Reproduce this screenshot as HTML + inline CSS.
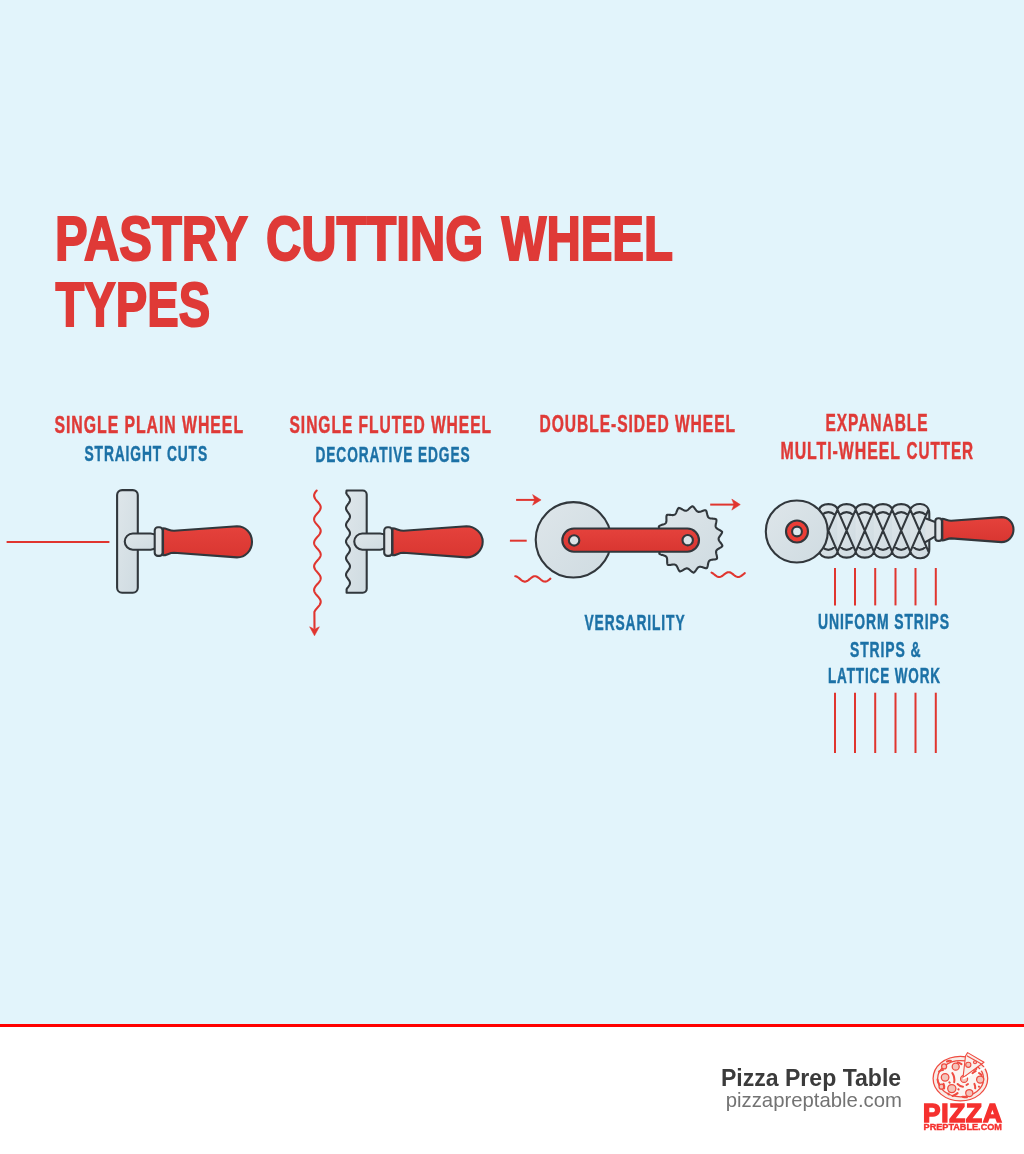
<!DOCTYPE html>
<html><head><meta charset="utf-8">
<style>
html,body{margin:0;padding:0;width:1024px;height:1154px;overflow:hidden;background:#fff;}
svg{display:block;font-family:"Liberation Sans",sans-serif;will-change:transform;}
.t{font-weight:bold;fill:#df3a37;}
.l{letter-spacing:1.4px;stroke-width:0.45px;}
.t.l{stroke:#df3a37;}
.b.l{stroke:#1c71a6;}
.b{font-weight:bold;fill:#1c71a6;}
</style></head><body>
<svg width="1024" height="1154" viewBox="0 0 1024 1154">
<defs>
<linearGradient id="steel" x1="0" y1="0" x2="1" y2="1">
<stop offset="0" stop-color="#dee6ea"/><stop offset="1" stop-color="#cfdbe1"/>
</linearGradient>
<linearGradient id="redg" x1="0" y1="0" x2="0" y2="1">
<stop offset="0" stop-color="#e5423c"/><stop offset="1" stop-color="#d93631"/>
</linearGradient>
</defs>
<rect x="0" y="0" width="1024" height="1024" fill="#e2f4fb"/>
<rect x="0" y="1024" width="1024" height="3" fill="#ff0000"/>
<rect x="0" y="1027" width="1024" height="127" fill="#ffffff"/>

<!-- Title -->
<text class="t" x="55" y="260" font-size="62.2" stroke="#df3a37" stroke-width="2" textLength="193" lengthAdjust="spacingAndGlyphs">PASTRY</text>
<text class="t" x="266" y="260" font-size="62.2" stroke="#df3a37" stroke-width="2" textLength="217.2" lengthAdjust="spacingAndGlyphs">CUTTING</text>
<text class="t" x="501.6" y="260" font-size="62.2" stroke="#df3a37" stroke-width="2" textLength="171.4" lengthAdjust="spacingAndGlyphs">WHEEL</text>
<text class="t" x="55.5" y="325.6" font-size="62.2" stroke="#df3a37" stroke-width="2" textLength="154.6" lengthAdjust="spacingAndGlyphs">TYPES</text>

<!-- Labels -->
<text class="t l" x="54.5" y="432.8" font-size="23" textLength="189.5" lengthAdjust="spacingAndGlyphs">SINGLE PLAIN WHEEL</text>
<text class="b l" x="84.5" y="461" font-size="21.4" textLength="123.5" lengthAdjust="spacingAndGlyphs">STRAIGHT CUTS</text>
<text class="t l" x="289.5" y="432.8" font-size="23" textLength="202.5" lengthAdjust="spacingAndGlyphs">SINGLE FLUTED WHEEL</text>
<text class="b l" x="315.5" y="461.8" font-size="21.4" textLength="155" lengthAdjust="spacingAndGlyphs">DECORATIVE EDGES</text>
<text class="t l" x="539.5" y="431.6" font-size="23" textLength="196.5" lengthAdjust="spacingAndGlyphs">DOUBLE-SIDED WHEEL</text>
<text class="t l" x="825.5" y="430.6" font-size="23" textLength="103" lengthAdjust="spacingAndGlyphs">EXPANABLE</text>
<text class="t l" x="780.5" y="458.5" font-size="23" textLength="120.5" lengthAdjust="spacingAndGlyphs">MULTI-WHEEL</text>
<text class="t l" x="906.5" y="458.5" font-size="23" textLength="67.5" lengthAdjust="spacingAndGlyphs">CUTTER</text>
<text class="b l" x="584.5" y="630.1" font-size="21.4" textLength="101" lengthAdjust="spacingAndGlyphs">VERSARILITY</text>
<text class="b l" x="818" y="629" font-size="21.4" textLength="132" lengthAdjust="spacingAndGlyphs">UNIFORM STRIPS</text>
<text class="b l" x="850" y="656.5" font-size="21.4" textLength="71.5" lengthAdjust="spacingAndGlyphs">STRIPS &amp;</text>
<text class="b l" x="828" y="683" font-size="21.4" textLength="113" lengthAdjust="spacingAndGlyphs">LATTICE WORK</text>

<line x1="7.4" y1="542" x2="108.6" y2="542" stroke="#e0352f" stroke-width="2" stroke-linecap="round"/>
<rect x="117.1" y="490.1" width="20.7" height="102.6" rx="5" fill="url(#steel)" stroke="#31373c" stroke-width="2.1"/>
<rect x="124.75" y="533.5" width="34" height="16.2" rx="8.1" fill="url(#steel)" stroke="#31373c" stroke-width="2.1"/>
<rect x="154.7" y="527.3" width="7.9" height="28.6" rx="3.2" fill="#dfe5e8" stroke="#31373c" stroke-width="2.1"/>
<path d="M 163 528.3
C 167 528.3 169 530.8 174 530.8
L 237 526.2
C 245.4 526.2 252 533.06 252 541.8
C 252 550.54 245.4 557.4 237 557.4
L 174 552.8
C 169 552.8 167 555.3 163 555.3 Z" fill="url(#redg)" stroke="#31373c" stroke-width="2.1" stroke-linejoin="round"/>
<path d="M 316.7,490.5 L 316.19,491.11 L 315.71,491.71 L 315.28,492.32 L 314.9,492.93 L 314.59,493.54 L 314.34,494.14 L 314.18,494.75 L 314.11,495.36 L 314.12,495.97 L 314.21,496.57 L 314.39,497.18 L 314.65,497.79 L 314.97,498.4 L 315.37,499 L 315.81,499.61 L 316.3,500.22 L 316.81,500.83 L 317.34,501.44 L 317.87,502.04 L 318.39,502.65 L 318.89,503.26 L 319.34,503.87 L 319.75,504.47 L 320.09,505.08 L 320.36,505.69 L 320.56,506.3 L 320.67,506.9 L 320.7,507.51 L 320.64,508.12 L 320.5,508.73 L 320.27,509.33 L 319.97,509.94 L 319.61,510.55 L 319.18,511.15 L 318.71,511.76 L 318.21,512.37 L 317.68,512.98 L 317.15,513.59 L 316.62,514.19 L 316.12,514.8 L 315.64,515.41 L 315.22,516.01 L 314.85,516.62 L 314.54,517.23 L 314.31,517.84 L 314.17,518.45 L 314.1,519.05 L 314.12,519.66 L 314.23,520.27 L 314.42,520.88 L 314.69,521.48 L 315.03,522.09 L 315.43,522.7 L 315.88,523.3 L 316.37,523.91 L 316.89,524.52 L 317.42,525.13 L 317.96,525.74 L 318.47,526.34 L 318.96,526.95 L 319.41,527.56 L 319.8,528.16 L 320.14,528.77 L 320.4,529.38 L 320.58,529.99 L 320.68,530.6 L 320.7,531.2 L 320.62,531.81 L 320.47,532.42 L 320.23,533.02 L 319.92,533.63 L 319.55,534.24 L 319.11,534.85 L 318.64,535.46 L 318.13,536.06 L 317.6,536.67 L 317.07,537.28 L 316.54,537.88 L 316.04,538.49 L 315.58,539.1 L 315.16,539.71 L 314.8,540.32 L 314.5,540.92 L 314.29,541.53 L 314.15,542.14 L 314.1,542.75 L 314.14,543.35 L 314.26,543.96 L 314.46,544.57 L 314.74,545.17 L 315.09,545.78 L 315.5,546.39 L 315.95,547 L 316.45,547.61 L 316.97,548.21 L 317.51,548.82 L 318.04,549.43 L 318.55,550.03 L 319.03,550.64 L 319.47,551.25 L 319.86,551.86 L 320.18,552.47 L 320.43,553.07 L 320.6,553.68 L 320.69,554.29 L 320.69,554.89 L 320.61,555.5 L 320.44,556.11 L 320.19,556.72 L 319.87,557.33 L 319.48,557.93 L 319.04,558.54 L 318.56,559.15 L 318.05,559.75 L 317.52,560.36 L 316.99,560.97 L 316.47,561.58 L 315.97,562.18 L 315.51,562.79 L 315.1,563.4 L 314.75,564.01 L 314.47,564.62 L 314.26,565.22 L 314.14,565.83 L 314.1,566.44 L 314.15,567.04 L 314.28,567.65 L 314.5,568.26 L 314.79,568.87 L 315.15,569.48 L 315.56,570.08 L 316.03,570.69 L 316.53,571.3 L 317.05,571.9 L 317.59,572.51 L 318.11,573.12 L 318.62,573.73 L 319.1,574.34 L 319.53,574.94 L 319.91,575.55 L 320.22,576.16 L 320.46,576.76 L 320.62,577.37 L 320.69,577.98 L 320.68,578.59 L 320.58,579.19 L 320.4,579.8 L 320.15,580.41 L 319.81,581.02 L 319.42,581.62 L 318.97,582.23 L 318.49,582.84 L 317.97,583.45 L 317.44,584.06 L 316.91,584.66 L 316.39,585.27 L 315.9,585.88 L 315.44,586.49 L 315.04,587.09 L 314.7,587.7 L 314.43,588.31 L 314.24,588.91 L 314.13,589.52 L 314.1,590.13 L 314.16,590.74 L 314.31,591.35 L 314.54,591.95 L 314.84,592.56 L 315.21,593.17 L 315.63,593.77 L 316.1,594.38 L 316.61,594.99 L 317.13,595.6 L 317.67,596.21 L 318.19,596.81 L 318.7,597.42 L 319.17,598.03 L 319.6,598.63 L 319.96,599.24 L 320.27,599.85 L 320.49,600.46 L 320.64,601.07 L 320.7,601.67 L 320.67,602.28 L 320.56,602.89 L 320.37,603.5 L 320.1,604.1 L 319.76,604.71 L 319.36,605.32 L 318.9,605.92 L 318.41,606.53 L 317.89,607.14 L 317.36,607.75 L 316.83,608.36 L 316.31,608.96 L 315.82,609.57 L 315.38,610.18 L 314.98,610.78 L 314.65,611.39 L 314.39,612 L 314.5,628" fill="none" stroke="#e0352f" stroke-width="2.1" stroke-linecap="round" stroke-linejoin="round"/><path d="M 309.6 626.8 L 314.5 629.2 L 319.4 626.8 L 314.5 635.8 Z" fill="#e0352f" stroke="#e0352f" stroke-width="0.5" stroke-linejoin="round"/>
<path d="M 346.6 490.5 H 362.7 A 4 4 0 0 1 366.7 494.5 V 588.7 A 4 4 0 0 1 362.7 592.7 H 346.6 L 346.6 589.2 L 347.09 588.4 L 347.66 587.6 L 348.27 586.8 L 348.85 585.99 L 349.35 585.19 L 349.73 584.39 L 349.95 583.59 L 349.99 582.79 L 349.85 581.99 L 349.55 581.18 L 349.1 580.38 L 348.55 579.58 L 347.95 578.78 L 347.35 577.98 L 346.82 577.18 L 346.39 576.37 L 346.11 575.57 L 346 574.77 L 346.08 573.97 L 346.33 573.17 L 346.73 572.37 L 347.25 571.56 L 347.84 570.76 L 348.44 569.96 L 349.01 569.16 L 349.48 568.36 L 349.81 567.56 L 349.98 566.75 L 349.97 565.95 L 349.78 565.15 L 349.43 564.35 L 348.94 563.55 L 348.37 562.75 L 347.77 561.94 L 347.19 561.14 L 346.68 560.34 L 346.29 559.54 L 346.06 558.74 L 346 557.94 L 346.13 557.13 L 346.43 556.33 L 346.87 555.53 L 347.42 554.73 L 348.02 553.93 L 348.61 553.12 L 349.16 552.32 L 349.59 551.52 L 349.88 550.72 L 350 549.92 L 349.93 549.12 L 349.69 548.32 L 349.3 547.51 L 348.78 546.71 L 348.2 545.91 L 347.59 545.11 L 347.03 544.31 L 346.55 543.5 L 346.2 542.7 L 346.02 541.9 L 346.02 541.1 L 346.2 540.3 L 346.55 539.5 L 347.03 538.7 L 347.59 537.89 L 348.2 537.09 L 348.78 536.29 L 349.3 535.49 L 349.69 534.69 L 349.93 533.88 L 350 533.08 L 349.88 532.28 L 349.59 531.48 L 349.16 530.68 L 348.62 529.88 L 348.02 529.08 L 347.42 528.27 L 346.87 527.47 L 346.43 526.67 L 346.13 525.87 L 346 525.07 L 346.06 524.26 L 346.29 523.46 L 346.68 522.66 L 347.18 521.86 L 347.77 521.06 L 348.37 520.26 L 348.94 519.46 L 349.43 518.65 L 349.78 517.85 L 349.97 517.05 L 349.98 516.25 L 349.81 515.45 L 349.48 514.64 L 349.01 513.84 L 348.44 513.04 L 347.84 512.24 L 347.25 511.44 L 346.73 510.64 L 346.33 509.84 L 346.08 509.03 L 346 508.23 L 346.11 507.43 L 346.39 506.63 L 346.81 505.83 L 347.35 505.02 L 347.94 504.22 L 348.54 503.42 L 349.09 502.62 L 349.54 501.82 L 349.85 501.02 L 349.99 500.22 L 349.95 499.41 L 349.73 498.61 L 349.35 497.81 L 348.85 497.01 L 348.27 496.21 L 347.66 495.4 L 347.09 494.6 L 346.6 493.8 L 346.24 493 Z" fill="url(#steel)" stroke="#31373c" stroke-width="2.1" stroke-linejoin="round"/>
<rect x="354.25" y="533.5" width="34" height="16.2" rx="8.1" fill="url(#steel)" stroke="#31373c" stroke-width="2.1"/>
<rect x="384.2" y="527.3" width="7.9" height="28.6" rx="3.2" fill="#dfe5e8" stroke="#31373c" stroke-width="2.1"/>
<path d="M 392.5 528.3
C 396.5 528.3 398.5 530.8 403.5 530.8
L 466.5 526.2
C 474.9 526.2 482.7 533.06 482.7 541.8
C 482.7 550.54 474.9 557.4 466.5 557.4
L 403.5 552.8
C 398.5 552.8 396.5 555.3 392.5 555.3 Z" fill="url(#redg)" stroke="#31373c" stroke-width="2.1" stroke-linejoin="round"/>
<line x1="516.1" y1="499.9" x2="535.6" y2="499.9" stroke="#e0352f" stroke-width="2"/><path d="M 532.6 494.6 L 541.1 499.9 L 532.6 505.2 L 534.8 499.9 Z" fill="#e0352f" stroke="#e0352f" stroke-width="0.5" stroke-linejoin="round"/>
<line x1="509.9" y1="540.7" x2="526.7" y2="540.7" stroke="#e0352f" stroke-width="2"/>
<path d="M 515.2,576.22 L 515.79,576.31 L 516.37,576.5 L 516.96,576.77 L 517.55,577.1 L 518.13,577.5 L 518.72,577.95 L 519.31,578.42 L 519.89,578.92 L 520.48,579.41 L 521.07,579.88 L 521.65,580.32 L 522.24,580.72 L 522.83,581.05 L 523.41,581.31 L 524,581.49 L 524.59,581.59 L 525.17,581.59 L 525.76,581.5 L 526.35,581.33 L 526.93,581.07 L 527.52,580.74 L 528.11,580.35 L 528.69,579.91 L 529.28,579.44 L 529.87,578.95 L 530.45,578.46 L 531.04,577.98 L 531.63,577.53 L 532.21,577.13 L 532.8,576.79 L 533.39,576.52 L 533.97,576.32 L 534.56,576.22 L 535.15,576.21 L 535.73,576.28 L 536.32,576.44 L 536.91,576.69 L 537.49,577.01 L 538.08,577.39 L 538.67,577.83 L 539.25,578.3 L 539.84,578.79 L 540.43,579.28 L 541.01,579.76 L 541.6,580.21 L 542.19,580.62 L 542.77,580.97 L 543.36,581.25 L 543.95,581.45 L 544.53,581.57 L 545.12,581.6 L 545.71,581.53 L 546.29,581.38 L 546.88,581.15 L 547.47,580.84 L 548.05,580.46 L 548.64,580.03 L 549.23,579.57 L 549.81,579.08 L 550.4,578.58" fill="none" stroke="#e0352f" stroke-width="2.1" stroke-linecap="round" stroke-linejoin="round"/>
<circle cx="573.4" cy="539.8" r="37.7" fill="url(#steel)" stroke="#31373c" stroke-width="2.1"/>
<path d="M 692.51,506.23 L 693.06,506.54 L 693.59,507.01 L 694.09,507.56 L 694.56,508.16 L 695.02,508.77 L 695.46,509.37 L 695.88,509.94 L 696.3,510.46 L 696.73,510.91 L 697.16,511.29 L 697.61,511.57 L 698.08,511.77 L 698.58,511.87 L 699.11,511.88 L 699.68,511.82 L 700.28,511.68 L 700.92,511.48 L 701.59,511.25 L 702.29,510.99 L 703.01,510.74 L 703.74,510.51 L 704.46,510.33 L 705.16,510.23 L 705.79,510.29 L 706.17,510.8 L 706.46,511.44 L 706.69,512.15 L 706.88,512.89 L 707.05,513.63 L 707.2,514.36 L 707.36,515.05 L 707.54,515.7 L 707.74,516.28 L 707.98,516.8 L 708.27,517.24 L 708.63,517.61 L 709.04,517.91 L 709.52,518.14 L 710.07,518.31 L 710.67,518.43 L 711.34,518.51 L 712.05,518.57 L 712.79,518.62 L 713.55,518.68 L 714.31,518.77 L 715.04,518.9 L 715.72,519.09 L 716.27,519.4 L 716.42,520.02 L 716.42,520.72 L 716.34,521.46 L 716.21,522.22 L 716.06,522.96 L 715.91,523.69 L 715.77,524.39 L 715.67,525.05 L 715.61,525.67 L 715.62,526.24 L 715.71,526.76 L 715.88,527.24 L 716.14,527.68 L 716.49,528.09 L 716.92,528.46 L 717.42,528.82 L 718,529.16 L 718.62,529.51 L 719.28,529.86 L 719.95,530.22 L 720.6,530.61 L 721.22,531.03 L 721.76,531.48 L 722.14,531.99 L 722.02,532.61 L 721.74,533.25 L 721.36,533.9 L 720.94,534.54 L 720.5,535.16 L 720.06,535.76 L 719.65,536.34 L 719.29,536.9 L 718.99,537.44 L 718.77,537.97 L 718.63,538.49 L 718.6,538.99 L 718.65,539.5 L 718.8,540.01 L 719.04,540.53 L 719.36,541.06 L 719.74,541.61 L 720.17,542.17 L 720.63,542.76 L 721.1,543.37 L 721.54,543.99 L 721.93,544.62 L 722.24,545.26 L 722.39,545.87 L 722.02,546.39 L 721.5,546.86 L 720.9,547.3 L 720.25,547.71 L 719.59,548.1 L 718.95,548.47 L 718.34,548.84 L 717.78,549.2 L 717.28,549.58 L 716.87,549.97 L 716.54,550.38 L 716.29,550.83 L 716.14,551.32 L 716.07,551.84 L 716.08,552.42 L 716.15,553.03 L 716.28,553.69 L 716.44,554.38 L 716.62,555.1 L 716.8,555.84 L 716.95,556.59 L 717.06,557.33 L 717.08,558.03 L 716.96,558.66 L 716.42,558.98 L 715.74,559.2 L 715.02,559.36 L 714.26,559.47 L 713.5,559.56 L 712.76,559.64 L 712.06,559.72 L 711.4,559.83 L 710.79,559.97 L 710.25,560.15 L 709.78,560.4 L 709.38,560.71 L 709.04,561.09 L 708.76,561.54 L 708.54,562.07 L 708.36,562.66 L 708.2,563.31 L 708.07,564.01 L 707.94,564.74 L 707.8,565.49 L 707.64,566.24 L 707.43,566.96 L 707.16,567.61 L 706.8,568.13 L 706.17,568.2 L 705.47,568.13 L 704.74,567.98 L 704.01,567.77 L 703.28,567.55 L 702.57,567.32 L 701.89,567.11 L 701.24,566.93 L 700.64,566.82 L 700.07,566.77 L 699.54,566.8 L 699.04,566.92 L 698.58,567.13 L 698.14,567.43 L 697.72,567.82 L 697.31,568.29 L 696.91,568.82 L 696.5,569.4 L 696.09,570.02 L 695.65,570.65 L 695.2,571.26 L 694.72,571.83 L 694.21,572.32 L 693.67,572.65 L 693.06,572.46 L 692.45,572.11 L 691.85,571.67 L 691.26,571.19 L 690.69,570.68 L 690.14,570.19 L 689.6,569.72 L 689.08,569.3 L 688.57,568.94 L 688.07,568.67 L 687.57,568.48 L 687.07,568.39 L 686.56,568.39 L 686.04,568.49 L 685.5,568.67 L 684.94,568.94 L 684.35,569.26 L 683.74,569.63 L 683.11,570.02 L 682.46,570.42 L 681.8,570.8 L 681.13,571.12 L 680.46,571.36 L 679.83,571.44 L 679.36,571.02 L 678.94,570.45 L 678.57,569.81 L 678.23,569.13 L 677.91,568.43 L 677.61,567.75 L 677.31,567.11 L 677,566.51 L 676.68,565.98 L 676.34,565.52 L 675.96,565.15 L 675.54,564.86 L 675.07,564.66 L 674.56,564.54 L 673.99,564.48 L 673.37,564.49 L 672.7,564.55 L 672,564.64 L 671.26,564.74 L 670.5,564.84 L 669.74,564.92 L 669,564.94 L 668.29,564.89 L 667.69,564.71 L 667.42,564.13 L 667.27,563.44 L 667.19,562.7 L 667.16,561.94 L 667.15,561.18 L 667.15,560.43 L 667.14,559.72 L 667.11,559.05 L 667.03,558.44 L 666.9,557.88 L 666.71,557.39 L 666.44,556.95 L 666.1,556.58 L 665.67,556.25 L 665.18,555.97 L 664.61,555.73 L 663.97,555.51 L 663.29,555.31 L 662.58,555.1 L 661.85,554.88 L 661.12,554.64 L 660.43,554.36 L 659.81,554.03 L 659.33,553.62 L 659.32,552.98 L 659.47,552.29 L 659.7,551.58 L 659.97,550.87 L 660.28,550.17 L 660.58,549.49 L 660.86,548.84 L 661.1,548.21 L 661.28,547.62 L 661.39,547.06 L 661.41,546.53 L 661.34,546.02 L 661.18,545.54 L 660.93,545.07 L 660.59,544.62 L 660.16,544.16 L 659.68,543.71 L 659.14,543.24 L 658.57,542.76 L 657.99,542.27 L 657.43,541.75 L 656.91,541.21 L 656.47,540.66 L 656.21,540.08 L 656.45,539.5 L 656.87,538.93 L 657.37,538.37 L 657.91,537.84 L 658.47,537.32 L 659.03,536.83 L 659.55,536.34 L 660.02,535.87 L 660.43,535.4 L 660.75,534.93 L 660.99,534.46 L 661.13,533.97 L 661.18,533.46 L 661.14,532.93 L 661.01,532.37 L 660.81,531.79 L 660.55,531.17 L 660.25,530.53 L 659.92,529.86 L 659.6,529.17 L 659.29,528.47 L 659.04,527.77 L 658.87,527.08 L 658.86,526.45 L 659.32,526.02 L 659.93,525.66 L 660.61,525.36 L 661.33,525.09 L 662.05,524.85 L 662.76,524.62 L 663.43,524.39 L 664.05,524.15 L 664.62,523.89 L 665.1,523.59 L 665.51,523.25 L 665.84,522.87 L 666.1,522.42 L 666.27,521.92 L 666.38,521.36 L 666.44,520.74 L 666.45,520.08 L 666.44,519.36 L 666.41,518.62 L 666.39,517.86 L 666.4,517.09 L 666.45,516.35 L 666.58,515.66 L 666.82,515.07 L 667.42,514.87 L 668.12,514.79 L 668.87,514.79 L 669.63,514.84 L 670.39,514.91 L 671.13,514.99 L 671.84,515.05 L 672.51,515.09 L 673.13,515.08 L 673.69,515 L 674.2,514.86 L 674.66,514.64 L 675.07,514.34 L 675.44,513.95 L 675.77,513.49 L 676.07,512.95 L 676.35,512.34 L 676.63,511.68 L 676.91,510.99 L 677.2,510.29 L 677.52,509.6 L 677.87,508.94 L 678.26,508.35 L 678.73,507.92 L 679.36,507.98 L 680.03,508.19 L 680.71,508.5 L 681.39,508.85 L 682.05,509.22 L 682.7,509.6 L 683.32,509.94 L 683.91,510.25 L 684.48,510.49 L 685.03,510.65 L 685.56,510.73 L 686.07,510.72 L 686.56,510.61 L 687.05,510.4 L 687.54,510.11 L 688.04,509.74 L 688.55,509.3 L 689.06,508.81 L 689.6,508.3 L 690.15,507.77 L 690.73,507.27 L 691.31,506.81 L 691.91,506.44 L 692.51,506.23 Z" fill="url(#steel)" stroke="#31373c" stroke-width="2.1" stroke-linejoin="round"/>
<rect x="562.3" y="528.5" width="136.7" height="23.2" rx="11.6" fill="url(#redg)" stroke="#31373c" stroke-width="2.1"/>
<circle cx="574.1" cy="540.4" r="5.2" fill="#dbe3e7" stroke="#31373c" stroke-width="2.1"/>
<circle cx="687.7" cy="540.2" r="5.2" fill="#dbe3e7" stroke="#31373c" stroke-width="2.1"/>
<line x1="710.2" y1="504.6" x2="734.8" y2="504.6" stroke="#e0352f" stroke-width="2"/><path d="M 731.8 499.1 L 740.3 504.6 L 731.8 510.1 L 734 504.6 Z" fill="#e0352f" stroke="#e0352f" stroke-width="0.5" stroke-linejoin="round"/>
<path d="M 711.5,572.61 L 712.05,572.89 L 712.61,573.23 L 713.16,573.61 L 713.72,574.03 L 714.27,574.46 L 714.83,574.9 L 715.38,575.33 L 715.94,575.74 L 716.5,576.1 L 717.05,576.42 L 717.61,576.67 L 718.16,576.86 L 718.72,576.97 L 719.27,577 L 719.83,576.95 L 720.38,576.82 L 720.93,576.62 L 721.49,576.34 L 722.04,576.01 L 722.6,575.64 L 723.15,575.22 L 723.71,574.79 L 724.26,574.35 L 724.82,573.92 L 725.38,573.51 L 725.93,573.14 L 726.49,572.82 L 727.04,572.55 L 727.6,572.36 L 728.15,572.24 L 728.7,572.2 L 729.26,572.24 L 729.81,572.36 L 730.37,572.56 L 730.92,572.82 L 731.48,573.14 L 732.03,573.52 L 732.59,573.93 L 733.14,574.36 L 733.7,574.8 L 734.25,575.23 L 734.81,575.64 L 735.37,576.02 L 735.92,576.35 L 736.47,576.62 L 737.03,576.82 L 737.58,576.95 L 738.14,577 L 738.69,576.97 L 739.25,576.86 L 739.8,576.67 L 740.36,576.41 L 740.91,576.1 L 741.47,575.73 L 742.02,575.32 L 742.58,574.89 L 743.13,574.45 L 743.69,574.02 L 744.25,573.6 L 744.8,573.22" fill="none" stroke="#e0352f" stroke-width="2.1" stroke-linecap="round" stroke-linejoin="round"/>
<rect x="819.3" y="509.7" width="92" height="41.9" fill="url(#steel)"/>
<path d="M 819.3 509.7 A 9.1 5.6 0 0 1 837.5 509.7 L 837.5 551.6 A 9.1 6 0 0 1 819.3 551.6 Z" fill="url(#steel)"/>
<path d="M 837.5 509.7 A 9.1 5.6 0 0 1 855.7 509.7 L 855.7 551.6 A 9.1 6 0 0 1 837.5 551.6 Z" fill="url(#steel)"/>
<path d="M 855.7 509.7 A 9.1 5.6 0 0 1 873.9 509.7 L 873.9 551.6 A 9.1 6 0 0 1 855.7 551.6 Z" fill="url(#steel)"/>
<path d="M 873.9 509.7 A 9.1 5.6 0 0 1 892.1 509.7 L 892.1 551.6 A 9.1 6 0 0 1 873.9 551.6 Z" fill="url(#steel)"/>
<path d="M 892.1 509.7 A 9.1 5.6 0 0 1 910.3 509.7 L 910.3 551.6 A 9.1 6 0 0 1 892.1 551.6 Z" fill="url(#steel)"/>
<path d="M 910.3 509.7 C 912.3 502.2 929.3 500.7 929.3 513.7 L 929.3 549.6 C 929.3 561.6 912.3 560.1 910.3 551.6 Z" fill="url(#steel)"/>
<path d="M 819.3 509.7 A 9.1 5.6 0 0 1 837.5 509.7 M 819.3 551.6 A 9.1 6 0 0 0 837.5 551.6 M 819.3 509.7 L 837.5 551.6 M 837.5 509.7 L 819.3 551.6 M 821.6 515 Q 828.4 509.4 835.2 515 M 821.52 546.5 Q 828.4 553.1 835.28 546.5 M 837.5 509.7 A 9.1 5.6 0 0 1 855.7 509.7 M 837.5 551.6 A 9.1 6 0 0 0 855.7 551.6 M 837.5 509.7 L 855.7 551.6 M 855.7 509.7 L 837.5 551.6 M 839.8 515 Q 846.6 509.4 853.4 515 M 839.72 546.5 Q 846.6 553.1 853.48 546.5 M 855.7 509.7 A 9.1 5.6 0 0 1 873.9 509.7 M 855.7 551.6 A 9.1 6 0 0 0 873.9 551.6 M 855.7 509.7 L 873.9 551.6 M 873.9 509.7 L 855.7 551.6 M 858 515 Q 864.8 509.4 871.6 515 M 857.92 546.5 Q 864.8 553.1 871.68 546.5 M 873.9 509.7 A 9.1 5.6 0 0 1 892.1 509.7 M 873.9 551.6 A 9.1 6 0 0 0 892.1 551.6 M 873.9 509.7 L 892.1 551.6 M 892.1 509.7 L 873.9 551.6 M 876.2 515 Q 883 509.4 889.8 515 M 876.12 546.5 Q 883 553.1 889.88 546.5 M 892.1 509.7 A 9.1 5.6 0 0 1 910.3 509.7 M 892.1 551.6 A 9.1 6 0 0 0 910.3 551.6 M 892.1 509.7 L 910.3 551.6 M 910.3 509.7 L 892.1 551.6 M 894.4 515 Q 901.2 509.4 908 515 M 894.32 546.5 Q 901.2 553.1 908.08 546.5 M 910.3 509.7 L 928.5 551.6 M 928.5 509.7 L 910.3 551.6 M 912.6 515 Q 919.4 509.4 926.2 515 M 912.52 546.5 Q 919.4 553.1 926.28 546.5 M 910.3 509.7 C 912.3 502.2 929.3 500.7 929.3 513.7 L 929.3 549.6 C 929.3 561.6 912.3 560.1 910.3 551.6" fill="none" stroke="#31373c" stroke-width="2.1" stroke-linejoin="round"/>
<path d="M 925.3 518.2 L 934.5 521.8 L 934.5 536.8 L 925.3 542.2 Z" fill="#dde3e6"/>
<path d="M 925.3 518.2 L 934.5 521.8 M 934.5 536.8 L 925.3 542.2" fill="none" stroke="#31373c" stroke-width="2.1" stroke-linecap="round"/>
<circle cx="796.8" cy="531.5" r="31" fill="url(#steel)" stroke="#31373c" stroke-width="2.1"/>
<circle cx="797" cy="531.5" r="11" fill="#ec3d36" stroke="#31373c" stroke-width="2.1"/>
<circle cx="797" cy="531.5" r="4.9" fill="#dde9ee" stroke="#31373c" stroke-width="2.1"/>
<rect x="935.3" y="518.3" width="6.6" height="22.6" rx="3" fill="#dfe5e8" stroke="#31373c" stroke-width="2.1"/>
<path d="M 942.3 518.8
C 945.5 518.8 947.1 520.8 951.1 520.8
L 1001.5 517.12
C 1008.22 517.12 1013.5 522.61 1013.5 529.6
C 1013.5 536.59 1008.22 542.08 1001.5 542.08
L 951.1 538.4
C 947.1 538.4 945.5 540.4 942.3 540.4 Z" fill="url(#redg)" stroke="#31373c" stroke-width="2.1" stroke-linejoin="round"/>
<line x1="835" y1="568" x2="835" y2="605.4" stroke="#e0352f" stroke-width="2"/>
<line x1="835" y1="692.7" x2="835" y2="753" stroke="#e0352f" stroke-width="2"/>
<line x1="855" y1="568" x2="855" y2="605.4" stroke="#e0352f" stroke-width="2"/>
<line x1="855" y1="692.7" x2="855" y2="753" stroke="#e0352f" stroke-width="2"/>
<line x1="875.2" y1="568" x2="875.2" y2="605.4" stroke="#e0352f" stroke-width="2"/>
<line x1="875.2" y1="692.7" x2="875.2" y2="753" stroke="#e0352f" stroke-width="2"/>
<line x1="895.5" y1="568" x2="895.5" y2="605.4" stroke="#e0352f" stroke-width="2"/>
<line x1="895.5" y1="692.7" x2="895.5" y2="753" stroke="#e0352f" stroke-width="2"/>
<line x1="915.5" y1="568" x2="915.5" y2="605.4" stroke="#e0352f" stroke-width="2"/>
<line x1="915.5" y1="692.7" x2="915.5" y2="753" stroke="#e0352f" stroke-width="2"/>
<line x1="935.8" y1="568" x2="935.8" y2="605.4" stroke="#e0352f" stroke-width="2"/>
<line x1="935.8" y1="692.7" x2="935.8" y2="753" stroke="#e0352f" stroke-width="2"/>
<g fill="none" stroke="#ef4b40" stroke-width="1.25">
<ellipse cx="960.4" cy="1078.6" rx="27.3" ry="22.3" fill="#f8ece7"/>
<ellipse cx="960.6" cy="1078.8" rx="23" ry="18.1" fill="#fcf4f1"/>
<circle cx="945.1" cy="1077.3" r="3.8" fill="#f4c3b9"/>
<circle cx="955.7" cy="1066.7" r="3.5" fill="#f4c3b9"/>
<circle cx="951.8" cy="1088.6" r="4.1" fill="#f4c3b9"/>
<circle cx="969.3" cy="1093.1" r="3.6" fill="#f4c3b9"/>
<circle cx="980.2" cy="1079.6" r="3.6" fill="#f4c3b9"/>
<circle cx="964.1" cy="1078.9" r="3.5" fill="#f4c3b9"/>
<circle cx="944.1" cy="1066.4" r="2.5" fill="#f4c3b9"/>
<circle cx="941.5" cy="1086.7" r="2.5" fill="#f4c3b9"/>
<circle cx="974.5" cy="1068.0" r="2.2" fill="#f4c3b9"/>
</g>
<g fill="#f9efeb" stroke="#ef4b40" stroke-width="1.1" stroke-linejoin="round">
<path d="M 967.6 1052.6 L 984 1062.2 L 963 1077.6 L 965.5 1056 Z"/>
<path d="M 966.8 1055.8 L 981.5 1064" fill="none"/>
<circle cx="968.3" cy="1064.8" r="2.6" fill="#f4c3b9"/>
<circle cx="975" cy="1062.3" r="1.5" fill="#f4c3b9"/>
</g>
<path d="M 963 1078.8 L 985 1067.6" stroke="#ffffff" stroke-width="1.8"/>
<g fill="none" stroke="#ef4b40" stroke-width="2" stroke-linecap="round">
<path d="M 952.3 1073 Q 955 1077 954.2 1082.2"/>
<path d="M 939 1071.5 Q 941 1070 943 1070"/>
<path d="M 943.5 1083.8 Q 944.6 1086 944.1 1088.5"/>
<path d="M 957.6 1084 Q 960 1086.5 963 1086.7"/>
<path d="M 952.5 1096 Q 955.5 1094.8 957.6 1093.1"/>
<path d="M 972.5 1073.2 Q 974.5 1071.8 975.7 1071.2"/>
<path d="M 974.4 1083.8 Q 975.4 1086 975.2 1088.3"/>
<path d="M 947 1061.5 Q 949 1060.5 951 1061"/>
<path d="M 937.5 1079.5 Q 937.8 1082 939 1083.5"/>
<path d="M 962.5 1096.8 Q 965 1097.5 967 1097.2"/>
<path d="M 979 1073 Q 980.5 1074 981.5 1075"/>
<path d="M 966.5 1085 L 968 1084"/>
<path d="M 948 1093.5 L 949 1094.5"/>
<path d="M 957.6 1062.5 Q 960 1063 961.5 1064.1"/>
<path d="M 949.3 1082.3 L 949.8 1082.7"/>
<path d="M 958.3 1089.2 L 958.6 1089.4"/>
<path d="M 978.9 1086.5 L 979.1 1086.8"/>
</g>
<!-- Footer -->
<text x="720.9" y="1086" font-size="23.5" font-weight="bold" fill="#3b3b3b" textLength="180.3" lengthAdjust="spacingAndGlyphs">Pizza Prep Table</text>
<text x="725.7" y="1107" font-size="20.8" fill="#737373" textLength="176.3" lengthAdjust="spacingAndGlyphs">pizzapreptable.com</text>
<text x="923" y="1121.6" font-size="25" font-weight="bold" fill="#f5312f" stroke="#f5312f" stroke-width="1.5" letter-spacing="0.8" textLength="79.6" lengthAdjust="spacingAndGlyphs">PIZZA</text>
<text x="923.6" y="1129.7" font-size="8.2" font-weight="bold" fill="#f5312f" stroke="#f5312f" stroke-width="0.35" textLength="78.3" lengthAdjust="spacingAndGlyphs">PREPTABLE.COM</text>
</svg>
</body></html>
